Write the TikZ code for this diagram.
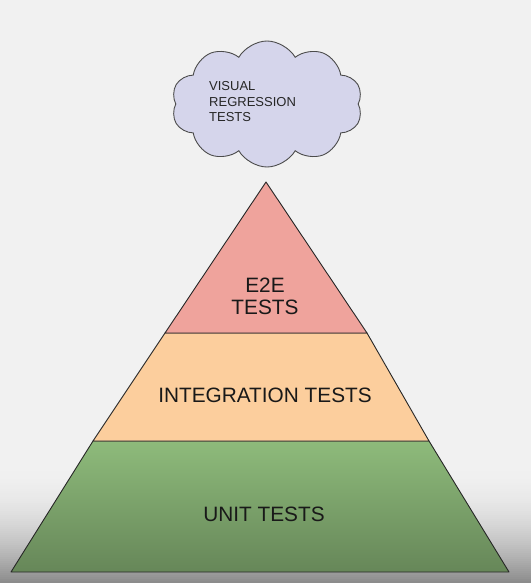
\documentclass[tikz,border=0pt]{standalone}
\usepackage{fontspec}
\setmainfont{Liberation Sans}
\usetikzlibrary{shapes.symbols}
\definecolor{fond}{HTML}{F1F1F1}
\definecolor{lavande}{HTML}{D5D5EB}
\definecolor{rouge}{HTML}{EFA39C}
\definecolor{peche}{HTML}{FCCE9D}
\definecolor{vert}{HTML}{8EBB7B}

\begin{document}
\begin{tikzpicture}[x=1pt, y=-1pt]
\tikzset{etage/.style={draw=black!85, line width=0.9pt, line join=round}}
\tikzset{texte/.style={font=\fontsize{20.8}{22}\selectfont, align=center, text=black!90, inner sep=0pt}}
\useasboundingbox (0,0) rectangle (531,583);
\fill[fond] (0,0) rectangle (531,583);
% ombre du bas, par bandes
\foreach \i in {0,...,59} {
  \pgfmathsetmacro{\teinte}{100-42*(\i/59)^2}
  \fill[fond!\teinte!black] (0,463+2*\i) rectangle (531,466+2*\i);
}
\coordinate (S) at (266,182);
\coordinate (B1) at (165,333);
\coordinate (B2) at (367,333);
\coordinate (C1) at (93,441);
\coordinate (C2) at (429,441);
\coordinate (D1) at (11,572);
\coordinate (D2) at (509,572);
\shade[top color=vert, bottom color=vert!72!black] (C1) -- (C2) -- (D2) -- (D1) -- cycle;
\draw[etage] (C1) -- (C2) -- (D2) -- (D1) -- cycle;
\filldraw[etage, fill=peche] (B1) -- (B2) -- (C2) -- (C1) -- cycle;
\filldraw[etage, fill=rouge] (S) -- (B2) -- (B1) -- cycle;
\node[texte] (e2e) at (265,296) {E2E\\TESTS};
\node[texte] (integ) at (265,395) {INTEGRATION TESTS};
\node[texte] (unit) at (264,514) {UNIT TESTS};
\node[cloud, cloud puffs=10, cloud puff arc=120, draw=black!70, line width=0.9pt, fill=lavande,
  minimum width=191pt, minimum height=126pt] (nuage) at (267,104) {};
\node[anchor=west, align=left, inner sep=0pt, text=black!85,
  font=\fontsize{13}{15.5}\selectfont] (visuel) at (209,102) {VISUAL\\REGRESSION\\TESTS};
\end{tikzpicture}
\end{document}
